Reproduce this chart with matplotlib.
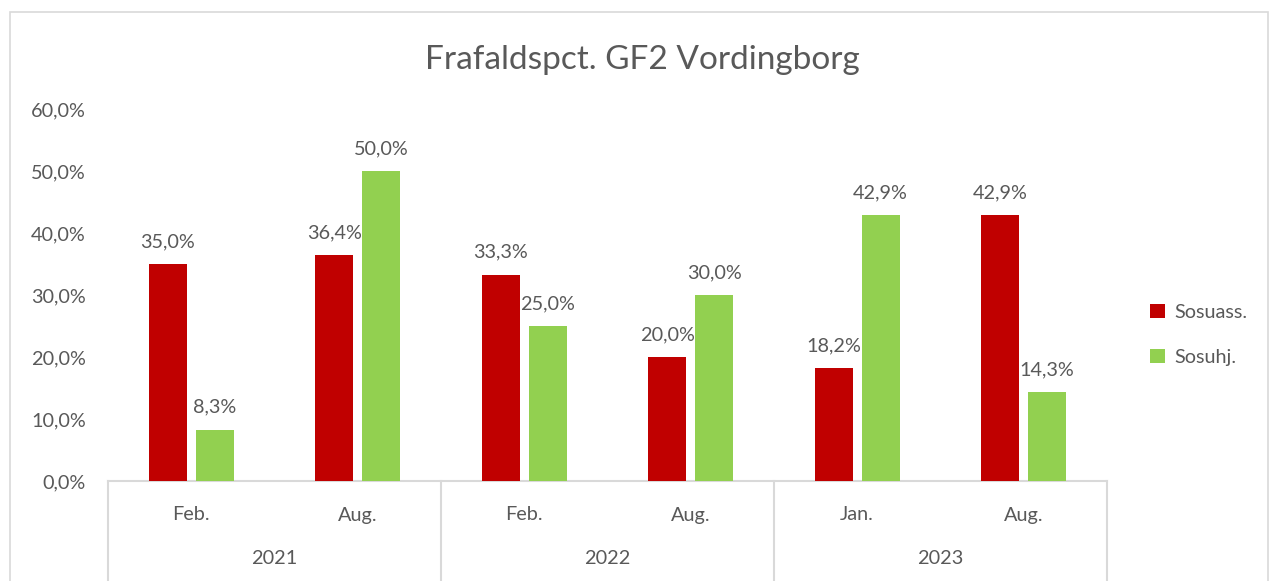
import matplotlib
matplotlib.use("Agg")
import matplotlib.pyplot as plt
from matplotlib.patches import Rectangle
from matplotlib.ticker import FuncFormatter
import numpy as np

years = ["2021", "2022", "2023"]
months = ["Feb.", "Aug.", "Feb.", "Aug.", "Jan.", "Aug."]
series_names = ["Sosuass.", "Sosuhj."]
sosuass = [35.0, 36.4, 33.3, 20.0, 18.2, 42.9]
sosuhj = [8.3, 50.0, 25.0, 30.0, 42.9, 14.3]
yticks = [0, 10, 20, 30, 40, 50, 60]

RED = "#C00000"
GREEN = "#92D050"
TXT = "#595959"
LINE = "#D9D9D9"
FONT = ["Lato", "DejaVu Sans"]
plt.rcParams["font.family"] = FONT
FS = 14.3

W, H = 1274, 581
fig = plt.figure(figsize=(W / 100, H / 100), dpi=100)

# chart frame
fig.patches.append(Rectangle((10 / W, -0.01), (1268 - 10) / W, (H - 12) / H + 0.01,
                             transform=fig.transFigure, fill=False,
                             edgecolor=LINE, linewidth=1.2))

x0, x1 = 108, 1107
ytop, ybot = 109, 481
ax = fig.add_axes([x0 / W, (H - ybot) / H, (x1 - x0) / W, (ybot - ytop) / H])

n = len(months)
x = np.arange(n)
bw = 0.228
off = 0.141
ax.bar(x - off, sosuass, bw, color=RED, label=series_names[0], zorder=3)
ax.bar(x + off, sosuhj, bw, color=GREEN, label=series_names[1], zorder=3)

fmt = lambda v: f"{v:.1f}".replace(".", ",") + "%"
for xi, v in zip(x - off, sosuass):
    ax.annotate(fmt(v), (xi, v), xytext=(0, 16), textcoords="offset points",
                ha="center", va="center", fontsize=FS, color=TXT)
for xi, v in zip(x + off, sosuhj):
    ax.annotate(fmt(v), (xi, v), xytext=(0, 16), textcoords="offset points",
                ha="center", va="center", fontsize=FS, color=TXT)

ax.set_xlim(-0.5, n - 0.5)
ax.set_ylim(0, 60)
ax.set_yticks(yticks)
ax.yaxis.set_major_formatter(FuncFormatter(lambda v, p: fmt(v)))
ax.tick_params(axis="y", length=0, pad=16, labelsize=FS, labelcolor=TXT)
ax.set_xticks([])
for s in ["top", "right", "left"]:
    ax.spines[s].set_visible(False)
ax.spines["bottom"].set_color(LINE)
ax.spines["bottom"].set_linewidth(1.5)

# multi-level category axis
trans = ax.get_xaxis_transform()
depth = -(H - ybot + 10) / (ybot - ytop)
for b in [-0.5, 1.5, 3.5, 5.5]:
    ax.plot([b, b], [0, depth], transform=trans, color=LINE, lw=1.5, clip_on=False)
for xi, m in zip(x, months):
    ax.text(xi, -34 / (ybot - ytop), m, transform=trans, ha="center", va="center",
            fontsize=FS, color=TXT)
for i, yr in enumerate(years):
    ax.text(2 * i + 0.5, -77 / (ybot - ytop), yr, transform=trans, ha="center",
            va="center", fontsize=FS, color=TXT)

fig.text(642 / W, 1 - 60 / H, "Frafaldspct. GF2 Vordingborg", ha="center", va="center",
         fontsize=24, color=TXT)

leg = fig.legend(loc="center left", bbox_to_anchor=(1132 / W, 1 - 335 / H), frameon=False,
                 fontsize=FS, handlelength=0.75, handleheight=0.75, labelspacing=1.4,
                 handletextpad=0.5)
for t in leg.get_texts():
    t.set_color(TXT)

fig.savefig("out.png", dpi=100)
